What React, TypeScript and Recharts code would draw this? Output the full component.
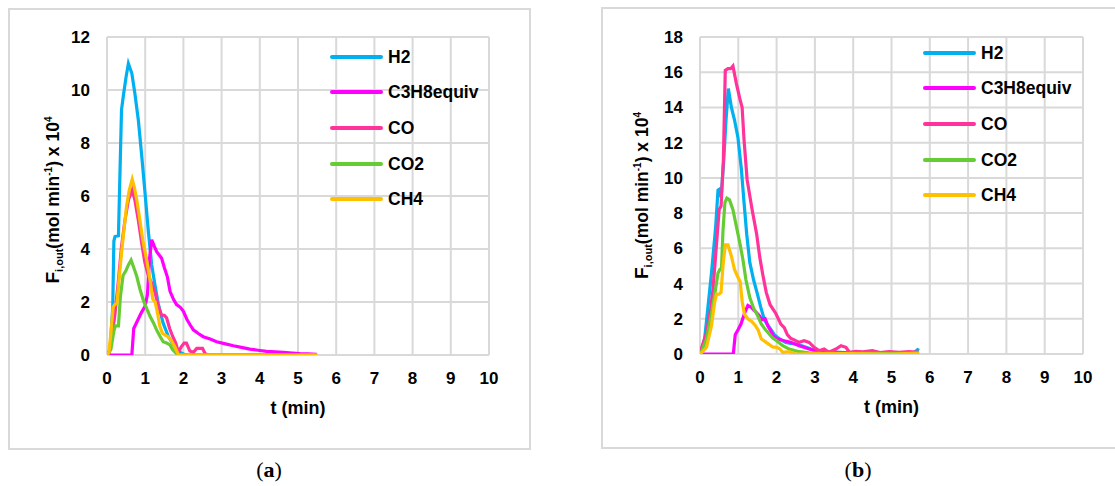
import React from 'react';
import { LineChart, Line, XAxis, YAxis, CartesianGrid, Legend } from 'recharts';

const FONT = "'Liberation Sans', Arial, Helvetica, sans-serif";

// ---------- shared ----------
const xTicks = [0, 1, 2, 3, 4, 5, 6, 7, 8, 9, 10];
const yTicksA = [0, 2, 4, 6, 8, 10, 12];
const yTicksB = [0, 2, 4, 6, 8, 10, 12, 14, 16, 18];
const seriesNames = ['H2', 'C3H8equiv', 'CO', 'CO2', 'CH4'];
const seriesColors = ['#00B0F0', '#FF00FF', '#FF3399', '#66CC33', '#FFC000'];

// ---------- panel (a) ----------
const tA_H2 = [0, 0.08, 0.15, 0.18, 0.21, 0.3, 0.34, 0.38, 0.43, 0.5, 0.56, 0.65, 0.73, 0.82, 0.91, 0.99, 1.08, 1.17, 1.26, 1.34, 1.47, 1.61, 1.74, 1.87, 2.0, 2.1, 5.5];
const vA_H2 = [0, 0.2, 1.8, 4.3, 4.47, 4.5, 6.9, 9.25, 9.8, 10.5, 11.0, 10.63, 9.87, 8.87, 7.5, 6.2, 4.7, 3.4, 2.6, 1.95, 1.2, 0.69, 0.38, 0.13, 0.04, 0, 0];

const tA_C3 = [0, 0.65, 0.7, 0.8, 0.9, 1.0, 1.06, 1.11, 1.17, 1.24, 1.3, 1.43, 1.5, 1.58, 1.65, 1.74, 1.82, 1.92, 2.0, 2.09, 2.17, 2.26, 2.4, 2.52, 2.7, 2.87, 3.1, 3.31, 3.55, 3.74, 3.95, 4.18, 4.4, 4.62, 4.85, 5.05, 5.25, 5.49];
const vA_C3 = [0, 0, 1.0, 1.3, 1.6, 1.85, 2.3, 3.6, 4.35, 4.1, 3.9, 3.65, 3.3, 2.95, 2.4, 2.1, 1.9, 1.8, 1.65, 1.35, 1.15, 0.95, 0.8, 0.69, 0.6, 0.5, 0.42, 0.35, 0.28, 0.22, 0.18, 0.14, 0.12, 0.1, 0.07, 0.05, 0.04, 0.02];

const tA_CO = [0, 0.05, 0.12, 0.21, 0.3, 0.38, 0.47, 0.56, 0.66, 0.73, 0.82, 0.91, 0.99, 1.08, 1.17, 1.26, 1.34, 1.43, 1.5, 1.56, 1.64, 1.72, 1.8, 1.87, 1.94, 2.02, 2.08, 2.17, 2.26, 2.35, 2.5, 2.57, 2.65, 5.5];
const vA_CO = [0, 0.05, 0.57, 1.57, 2.83, 4.09, 5.09, 5.85, 6.23, 5.85, 5.09, 4.21, 3.5, 3.0, 2.7, 2.35, 1.85, 1.5, 1.5, 1.4, 1.0, 0.7, 0.45, 0.1, 0.3, 0.45, 0.45, 0.15, 0.1, 0.25, 0.25, 0.05, 0, 0];

const tA_CO2 = [0, 0.1, 0.18, 0.22, 0.3, 0.35, 0.42, 0.5, 0.56, 0.63, 0.7, 0.78, 0.86, 0.95, 1.04, 1.13, 1.22, 1.3, 1.39, 1.47, 1.56, 1.65, 1.72, 1.8, 1.87, 5.5];
const vA_CO2 = [0, 0.2, 0.9, 1.1, 1.1, 2.2, 3.0, 3.2, 3.4, 3.58, 3.3, 2.96, 2.5, 2.07, 1.75, 1.45, 1.2, 0.94, 0.7, 0.5, 0.45, 0.38, 0.2, 0.08, 0, 0];

const tA_CH4 = [0, 0.05, 0.1, 0.16, 0.2, 0.26, 0.3, 0.38, 0.45, 0.51, 0.58, 0.66, 0.72, 0.78, 0.86, 0.94, 1.04, 1.12, 1.2, 1.26, 1.32, 1.38, 1.45, 1.52, 1.6, 1.68, 1.78, 1.87, 5.5];
const vA_CH4 = [0, 0.1, 0.8, 1.8, 1.9, 1.95, 2.6, 3.84, 4.8, 5.6, 6.2, 6.63, 6.3, 5.85, 5.1, 4.3, 3.58, 2.9, 2.1, 2.0, 1.6, 1.1, 0.82, 0.75, 0.7, 0.55, 0.3, 0, 0];

// ---------- panel (b) ----------
const tB_H2 = [0, 0.05, 0.12, 0.2, 0.3, 0.41, 0.47, 0.51, 0.55, 0.62, 0.68, 0.74, 0.82, 0.9, 0.99, 1.08, 1.15, 1.22, 1.3, 1.4, 1.5, 1.58, 1.68, 1.78, 1.85, 1.94, 2.03, 2.12, 2.24, 2.37, 2.5, 2.64, 2.77, 2.9, 3.03, 3.3, 3.8, 4.3, 4.8, 5.3, 5.6, 5.68, 5.72];
const vB_H2 = [0, 0.3, 0.85, 2.5, 4.6, 7.25, 9.3, 9.36, 8.9, 11.0, 13.3, 15.07, 14.0, 13.3, 12.3, 10.5, 8.6, 6.8, 5.2, 4.2, 3.4, 2.7, 1.95, 1.6, 1.4, 1.1, 0.94, 0.8, 0.66, 0.6, 0.57, 0.48, 0.38, 0.28, 0.19, 0.12, 0.08, 0.06, 0.05, 0.05, 0.1, 0.25, 0.2];

const tB_C3 = [0, 0.87, 0.92, 1.0, 1.07, 1.16, 1.25, 1.34, 1.43, 1.55, 1.62, 1.7, 1.77, 1.85, 1.92, 2.03, 2.2, 2.37, 2.59, 2.85, 3.11, 3.46, 4.0, 4.5, 5.0, 5.5, 5.72];
const vB_C3 = [0, 0, 1.1, 1.4, 1.7, 2.3, 2.75, 2.65, 2.45, 2.17, 1.95, 2.0, 1.6, 1.3, 1.0, 0.85, 0.75, 0.66, 0.47, 0.28, 0.13, 0.1, 0.06, 0.05, 0.04, 0.04, 0.04];

const tB_CO = [0, 0.05, 0.17, 0.28, 0.34, 0.44, 0.5, 0.55, 0.61, 0.66, 0.73, 0.8, 0.86, 0.95, 1.04, 1.1, 1.15, 1.23, 1.36, 1.48, 1.56, 1.64, 1.73, 1.83, 1.98, 2.11, 2.2, 2.28, 2.36, 2.46, 2.59, 2.72, 2.85, 2.98, 3.11, 3.24, 3.37, 3.55, 3.68, 3.81, 3.9, 4.07, 4.25, 4.5, 4.7, 4.94, 5.2, 5.46, 5.72];
const vB_CO = [0, 0.4, 1.2, 2.6, 3.7, 6.5, 8.2, 8.4, 11.0, 16.1, 16.2, 16.2, 16.35, 15.35, 14.5, 14.0, 12.15, 9.9, 8.2, 6.8, 5.5, 4.5, 3.5, 2.8, 2.3, 1.7, 1.5, 1.1, 0.9, 0.8, 0.66, 0.75, 0.66, 0.38, 0.19, 0.28, 0.1, 0.28, 0.47, 0.38, 0.1, 0.15, 0.12, 0.19, 0.08, 0.13, 0.1, 0.13, 0.1];

const tB_CO2 = [0, 0.05, 0.17, 0.3, 0.4, 0.47, 0.52, 0.56, 0.6, 0.65, 0.7, 0.77, 0.86, 0.95, 1.04, 1.12, 1.2, 1.3, 1.4, 1.5, 1.6, 1.7, 1.8, 1.9, 2.0, 2.16, 2.33, 2.59, 2.85, 3.2, 4.0, 5.0, 5.72];
const vB_CO2 = [0, 0.2, 0.85, 2.3, 3.6, 4.6, 4.8, 4.8, 7.0, 8.6, 8.85, 8.75, 8.2, 7.25, 6.3, 5.37, 4.2, 3.2, 2.6, 2.2, 1.7, 1.4, 1.15, 0.9, 0.75, 0.47, 0.28, 0.13, 0.06, 0.04, 0.03, 0.03, 0.03];

const tB_CH4 = [0, 0.05, 0.17, 0.3, 0.38, 0.43, 0.5, 0.55, 0.6, 0.66, 0.73, 0.82, 0.9, 0.98, 1.05, 1.1, 1.16, 1.25, 1.35, 1.45, 1.52, 1.6, 1.7, 1.8, 1.9, 2.0, 2.08, 2.16, 2.33, 2.5, 3.0, 4.0, 5.0, 5.72];
const vB_CH4 = [0, 0.1, 0.38, 1.6, 2.9, 3.4, 3.4, 3.5, 5.0, 6.2, 6.2, 5.55, 4.8, 4.4, 4.1, 3.0, 2.26, 2.0, 1.85, 1.6, 1.35, 0.85, 0.7, 0.55, 0.4, 0.38, 0.3, 0.1, 0.13, 0, 0.02, 0.02, 0, 0.05];

const mk = (t: number[], v: number[]) => t.map((x, i) => ({ t: x, v: v[i] }));

const panelA = [mk(tA_H2, vA_H2), mk(tA_C3, vA_C3), mk(tA_CO, vA_CO), mk(tA_CO2, vA_CO2), mk(tA_CH4, vA_CH4)];
const panelB = [mk(tB_H2, vB_H2), mk(tB_C3, vB_C3), mk(tB_CO, vB_CO), mk(tB_CO2, vB_CO2), mk(tB_CH4, vB_CH4)];

function YTitle(props: any) {
  const vb = props.viewBox || { x: 0, y: 0, width: 60, height: 318 };
  const cx = vb.x + (props.bx || 0);
  const cy = vb.y + vb.height / 2 + (props.by || 0);
  return (
    <text
      x={cx}
      y={cy}
      transform={`rotate(-90, ${cx}, ${cy})`}
      textAnchor="middle"
      fill="#000"
      fontFamily={FONT}
      fontWeight={700}
      fontSize={17.5}
    >
      <tspan fontSize={19}>F</tspan>
      <tspan fontSize={11} dy={4}>i,out</tspan>
      <tspan dy={-4}>(mol min</tspan>
      <tspan fontSize={10} dy={-7}>-1</tspan>
      <tspan dy={7}>) x 10</tspan>
      <tspan fontSize={10} dy={-7}>4</tspan>
    </text>
  );
}

function XTitle(props: any) {
  const vb = props.viewBox || { x: 0, y: 0, width: 0, height: 30 };
  return (
    <text
      x={vb.x + vb.width / 2}
      y={vb.y + 59}
      textAnchor="middle"
      fill="#000"
      fontFamily={FONT}
      fontWeight={700}
      fontSize={18}
    >
      t (min)
    </text>
  );
}

const renderLegend = (props: any) => {
  const items = [...(props.payload || [])].sort(
    (a: any, b: any) => seriesNames.indexOf(a.value) - seriesNames.indexOf(b.value)
  );
  return (
    <div>
      {items.map((e: any) => (
        <div key={e.value} style={{ display: 'flex', alignItems: 'center', height: 35.6 }}>
          <div style={{ width: 53, height: 4, background: e.color, borderRadius: 2 }} />
          <span
            style={{
              marginLeft: 5,
              fontFamily: FONT,
              fontWeight: 700,
              fontSize: 17.5,
              color: '#000',
              lineHeight: '18px',
              whiteSpace: 'nowrap',
            }}
          >
            {e.value}
          </span>
        </div>
      ))}
    </div>
  );
};

const tickStyle = { fill: '#000', fontSize: 17, fontWeight: 700, fontFamily: FONT };

function Panel(props: {
  width: number;
  height: number;
  margin: any;
  yMax: number;
  yTicks: number[];
  series: { t: number; v: number }[][];
  legendPos: { left: number; top: number };
  yTitleBx: number;
  yTitleBy: number;
}) {
  return (
    <LineChart width={props.width} height={props.height} margin={props.margin}>
      <CartesianGrid stroke="#D9D9D9" strokeWidth={2} />
      <XAxis
        type="number"
        dataKey="t"
        domain={[0, 10]}
        ticks={xTicks}
        interval={0}
        allowDataOverflow
        axisLine={false}
        tickLine={false}
        tickSize={0}
        tickMargin={17}
        tick={tickStyle}
        height={30}
        label={<XTitle />}
      />
      <YAxis
        type="number"
        dataKey="v"
        domain={[0, props.yMax]}
        ticks={props.yTicks}
        interval={0}
        allowDataOverflow
        axisLine={false}
        tickLine={false}
        tickSize={0}
        tickMargin={17}
        tick={tickStyle}
        width={60}
        label={<YTitle bx={props.yTitleBx} by={props.yTitleBy} />}
      />
      <Legend
        layout="vertical"
        align="center"
        verticalAlign="middle"
        content={renderLegend}
        wrapperStyle={{ left: props.legendPos.left, top: props.legendPos.top, width: 'auto', height: 'auto' }}
      />
      {props.series.map((d, i) => (
        <Line
          key={seriesNames[i]}
          data={d}
          dataKey="v"
          name={seriesNames[i]}
          type="linear"
          stroke={seriesColors[i]}
          strokeWidth={3.2}
          dot={false}
          activeDot={false}
          isAnimationActive={false}
        />
      ))}
    </LineChart>
  );
}

const boxStyle = (l: number, t: number, w: number, h: number): React.CSSProperties => ({
  position: 'absolute',
  left: l,
  top: t,
  width: w,
  height: h,
  border: '2px solid #D9D9D9',
  boxSizing: 'border-box',
});

const captionStyle = (cx: number): React.CSSProperties => ({
  position: 'absolute',
  left: cx - 40,
  width: 80,
  top: 457,
  textAlign: 'center',
  fontFamily: "'Liberation Serif', 'DejaVu Serif', serif",
  fontSize: 22,
  color: '#000',
  lineHeight: '26px',
});

export default function App() {
  return (
    <div style={{ position: 'absolute', left: 0, top: 0, width: 1115, height: 486, background: '#fff', overflow: 'hidden' }}>
      <div style={boxStyle(8, 8, 523, 442)} />
      <div style={boxStyle(601, 7, 520, 442)} />
      <div style={{ position: 'absolute', left: 0, top: 0 }}>
        <Panel
          width={560}
          height={486}
          margin={{ top: 37, right: 71, bottom: 101, left: 47 }}
          yMax={12}
          yTicks={yTicksA}
          series={panelA}
          legendPos={{ left: 330, top: 39 }}
          yTitleBx={12}
          yTitleBy={4}
        />
      </div>
      <div style={{ position: 'absolute', left: 560, top: 0 }}>
        <Panel
          width={555}
          height={486}
          margin={{ top: 37, right: 32, bottom: 102, left: 80 }}
          yMax={18}
          yTicks={yTicksB}
          series={panelB}
          legendPos={{ left: 363, top: 35 }}
          yTitleBx={8}
          yTitleBy={0}
        />
      </div>
      <div style={captionStyle(269)}>
        (<b>a</b>)
      </div>
      <div style={captionStyle(858)}>
        (<b>b</b>)
      </div>
    </div>
  );
}
